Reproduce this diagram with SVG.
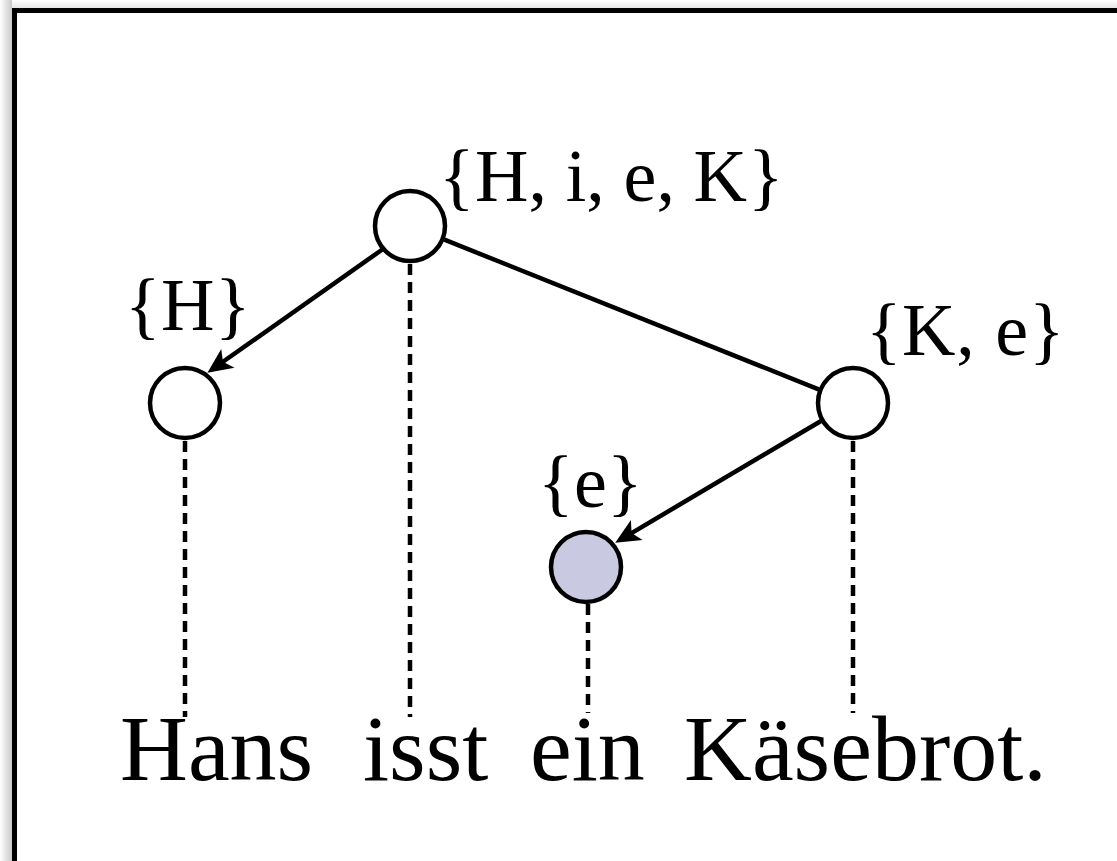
<svg xmlns="http://www.w3.org/2000/svg" width="1117" height="861" viewBox="0 0 1117 861">
  <defs>
    <linearGradient id="shadowL" x1="0" y1="0" x2="1" y2="0">
      <stop offset="0" stop-color="#ffffff"/>
      <stop offset="1" stop-color="#c8c8c8"/>
    </linearGradient>
    <linearGradient id="shadowT" x1="0" y1="0" x2="0" y2="1">
      <stop offset="0" stop-color="#ffffff"/>
      <stop offset="1" stop-color="#e6e6e6"/>
    </linearGradient>
    <marker id="arrow" markerUnits="userSpaceOnUse" markerWidth="34" markerHeight="34" viewBox="-2 -16 34 32" refX="9" refY="0" orient="auto">
      <path d="M25,0 L0,-11.5 L6,0 L0,11.5 Z" fill="#000"/>
    </marker>
    <style>
      .node { fill: #ffffff; stroke: #000; stroke-width: 4.5; }
      .node.sel { fill: #c9c9e1; }
      .edge { stroke: #000; stroke-width: 4.5; fill: none; }
      .dash { stroke: #000; stroke-width: 4.5; stroke-dasharray: 11 7; fill: none; }
      .lbl { font-family: "Liberation Serif", "Times New Roman", serif; font-size: 74px; fill: #000; }
      .word { font-family: "Liberation Serif", "Times New Roman", serif; font-size: 94px; fill: #000; }
    </style>
  </defs>

  <rect x="0" y="0" width="1117" height="861" fill="#ffffff"/>
  <rect x="0" y="0" width="12" height="861" fill="url(#shadowL)"/>
  <rect x="12" y="0" width="1105" height="8" fill="url(#shadowT)"/>
  <rect id="frame" x="14.5" y="10.5" width="1200" height="1000" fill="#ffffff" stroke="#000" stroke-width="5"/>

  <g id="connectors">
    <line class="dash" x1="185" y1="441" x2="185" y2="717"/>
    <line class="dash" x1="410" y1="264" x2="410" y2="717"/>
    <line class="dash" x1="588" y1="604" x2="588" y2="713"/>
    <line class="dash" x1="853" y1="441" x2="853" y2="713"/>
    <line class="edge" x1="383" y1="249" x2="220.5" y2="363.5" marker-end="url(#arrow)"/>
    <line class="edge" x1="444.4" y1="239.7" x2="818.6" y2="389.3"/>
    <line class="edge" x1="821" y1="421" x2="629" y2="534.6" marker-end="url(#arrow)"/>
  </g>

  <g id="node-root">
    <circle class="node" cx="410" cy="226" r="35"/>
    <text class="lbl" y="201"><tspan x="439">{</tspan><tspan x="475" textLength="272" lengthAdjust="spacing">H, i, e, K</tspan><tspan x="748">}</tspan></text>
  </g>
  <g id="node-H">
    <circle class="node" cx="185" cy="403" r="35"/>
    <text class="lbl" y="330"><tspan x="125">{</tspan><tspan x="161">H</tspan><tspan x="215">}</tspan></text>
  </g>
  <g id="node-Ke">
    <circle class="node" cx="853" cy="403" r="35"/>
    <text class="lbl" y="355"><tspan x="866">{</tspan><tspan x="902" textLength="126" lengthAdjust="spacing">K, e</tspan><tspan x="1029">}</tspan></text>
  </g>
  <g id="node-e">
    <circle class="node sel" cx="586" cy="567" r="35"/>
    <text class="lbl" y="507"><tspan x="538">{</tspan><tspan x="574">e</tspan><tspan x="607">}</tspan></text>
  </g>

  <g id="sentence">
    <text class="word" x="120" y="780">Hans</text>
    <text class="word" x="363" y="780">isst</text>
    <text class="word" x="530" y="780">ein</text>
    <text class="word" x="684" y="780">Käsebrot.</text>
  </g>
</svg>
